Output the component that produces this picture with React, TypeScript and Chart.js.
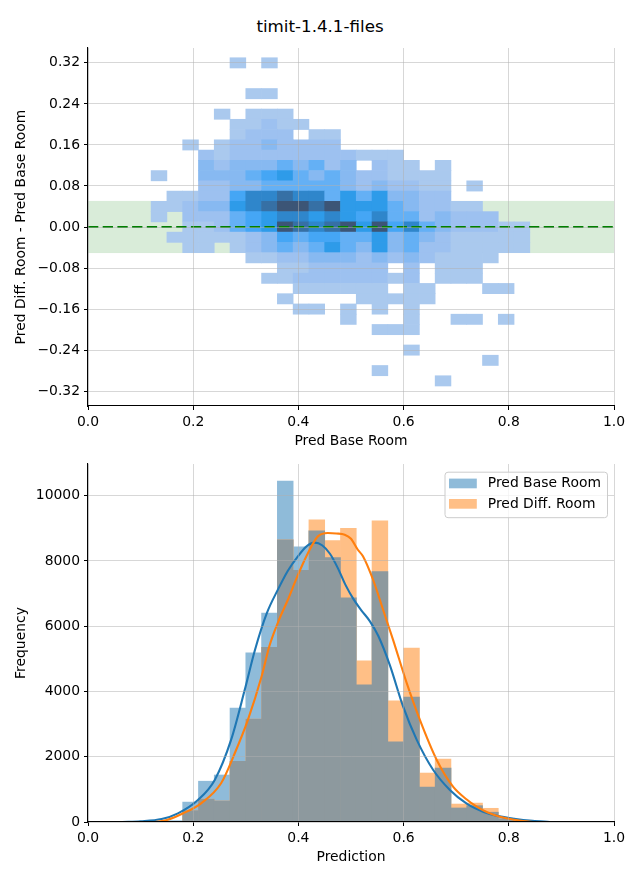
import React, { useEffect, useRef } from "react";
import { Chart, registerables } from "chart.js";

Chart.register(...registerables);

const FONT_FAMILY = "'DejaVu Sans', sans-serif";
Chart.defaults.font.family = FONT_FAMILY;
Chart.defaults.font.size = 13.9;
Chart.defaults.color = "#000";

const figureTitle = "timit-1.4.1-files";

// ---------- data ----------
// centres of the 0.03-wide prediction bins (shared by both panels)
const xBinCenters = [
  0.135, 0.165, 0.195, 0.225, 0.255, 0.285, 0.315, 0.345, 0.375, 0.405, 0.435, 0.465,
  0.495, 0.525, 0.555, 0.585, 0.615, 0.645, 0.675, 0.705, 0.735, 0.765, 0.795, 0.825,
];

// centres of the 0.02-high difference bins (top → bottom)
const diffBinCenters = [
  0.32, 0.3, 0.28, 0.26, 0.24, 0.22, 0.2, 0.18, 0.16, 0.14, 0.12, 0.1, 0.08, 0.06, 0.04, 0.02,
  0.0, -0.02, -0.04, -0.06, -0.08, -0.1, -0.12, -0.14, -0.16, -0.18, -0.2, -0.22, -0.24, -0.26,
  -0.28, -0.3,
];
const diffBinHalf = 0.01;

// density level of each 2-D cell (0 = empty, 1 = light … 9 = darkest); one string per row
const heatLevels = [
  "000001010000000000000000",
  "000000000000000000000000",
  "000000000000000000000000",
  "000000110000000000000000",
  "000000000000000000000000",
  "000010111000000000000000",
  "000001121100000000000000",
  "000001222011000000000000",
  "001012232222000000000000",
  "000212222222211100000000",
  "000323334342302110100000",
  "100333456434322111100000",
  "000223344444323221101000",
  "011225778774646332200000",
  "112336789989666432211000",
  "102224567767657442322200",
  "001124569878969574322211",
  "011111235455446343211111",
  "001101234346436342211111",
  "000000112233323232111100",
  "000000001122222020111000",
  "000000011222222120111000",
  "000000000111111011000110",
  "000000001000011111000000",
  "000000000110101010000000",
  "000000000000100010011010",
  "000000000000001110000000",
  "000000000000000000000000",
  "000000000000000010000000",
  "000000000000000000000100",
  "000000000000001000000000",
  "000000000000000000100000",
];
const heatShades = [
  "#aac9ee", "#9dc1f0", "#87b9f1", "#64b0f5", "#45a6f5", "#2e9be9", "#2f86cb", "#3670a5", "#3c5576",
];

const bandLimits = [-0.05, 0.05];
const zeroLineY = 0;

const topXTicks = [0, 0.2, 0.4, 0.6, 0.8, 1.0];
const topYTicks = [-0.32, -0.24, -0.16, -0.08, 0, 0.08, 0.16, 0.24, 0.32];

const seriesNames = ["Pred Base Room", "Pred Diff. Room"];
const baseCounts = [
  10, 40, 610, 1250, 1440, 3490, 5180, 6400, 10450, 8430, 8920, 8100,
  6870, 4200, 7670, 2460, 3830, 1070, 1650, 430, 500, 300, 120, 30,
];
const diffCounts = [
  0, 20, 350, 700, 645, 1860, 3150, 5350, 8650, 7710, 9260, 8620,
  9000, 4940, 9230, 3710, 5330, 1500, 1930, 550, 580, 420, 100, 20,
];

const baseKdeX = [
  0.065, 0.1, 0.14, 0.171, 0.209, 0.241, 0.272, 0.298, 0.317, 0.34, 0.361, 0.38, 0.399, 0.415,
  0.431, 0.445, 0.46, 0.475, 0.49, 0.505, 0.52, 0.536, 0.552, 0.574, 0.599, 0.625, 0.656, 0.688,
  0.72, 0.751, 0.78, 0.81, 0.845, 0.878,
];
const baseKdeY = [
  0, 20, 90, 266, 675, 1290, 2515, 4050, 5250, 6400, 7120, 7700, 8140, 8440,
  8560, 8480, 8220, 7780, 7250, 6820, 6480, 6150, 5700, 4800, 3540, 2515, 1600, 980,
  560, 316, 180, 100, 35, 0,
];
const diffKdeX = [
  0.127, 0.15, 0.181, 0.215, 0.253, 0.279, 0.304, 0.33, 0.345, 0.362, 0.38, 0.396, 0.412, 0.425,
  0.437, 0.456, 0.472, 0.488, 0.5, 0.513, 0.523, 0.542, 0.561, 0.58, 0.606, 0.631, 0.663, 0.694,
  0.72, 0.739, 0.76, 0.783, 0.81, 0.846,
];
const diffKdeY = [
  0, 60, 266, 573, 1186, 2106, 3129, 4458, 5400, 6150, 6810, 7450, 8037, 8450,
  8752, 8855, 8840, 8804, 8680, 8343, 8138, 7423, 6503, 5583, 4254, 3129, 1902, 1083,
  690, 470, 290, 163, 70, 0,
];

const bottomXTicks = [0, 0.2, 0.4, 0.6, 0.8, 1.0];
const bottomYTicks = [0, 2000, 4000, 6000, 8000, 10000];

// ---------- styles ----------
const BLUE = "#1f77b4";
const ORANGE = "#ff7f0e";
const BLUE_FILL = "#8fbbd9";
const ORANGE_FILL = "#ffbf86";
const OVERLAP_FILL = "#8d999e";

const TICK_FONT = { family: FONT_FAMILY, size: 13.9 };
const gridOpts = () => ({
  color: "rgba(176,176,176,0.5)",
  lineWidth: 1,
  tickColor: "#000",
  tickLength: 4,
  tickWidth: 1,
  offset: false,
  z: 1,
});
const borderOpts = () => ({ display: true, color: "#000", width: 1.1, z: 2 });

const fmtSigned = (v: number, d: number) => {
  const s = Math.abs(v).toFixed(d);
  return v < -1e-9 ? "\u2212" + s : s;
};

function xAxis(ticks: number[], title: string, height: number, titlePadBottom: number) {
  return {
    type: "linear",
    min: 0,
    max: 1,
    offset: false,
    grid: gridOpts(),
    border: borderOpts(),
    ticks: {
      font: TICK_FONT,
      color: "#000",
      padding: 4,
      maxRotation: 0,
      autoSkip: false,
      callback: (v: number) => Number(v).toFixed(1),
    },
    afterBuildTicks: (s: any) => {
      s.ticks = ticks.map((v) => ({ value: v }));
    },
    afterFit: (s: any) => {
      s.height = height;
    },
    title: {
      display: true,
      text: title,
      font: { family: FONT_FAMILY, size: 13.9 },
      color: "#000",
      padding: { top: 0, bottom: titlePadBottom },
    },
  };
}

function yAxis(min: number, max: number, ticks: number[], title: string, fmt: (v: number) => string) {
  return {
    type: "linear",
    min,
    max,
    grid: gridOpts(),
    border: borderOpts(),
    ticks: { font: TICK_FONT, color: "#000", padding: 4, autoSkip: false, callback: fmt },
    afterBuildTicks: (s: any) => {
      s.ticks = ticks.map((v) => ({ value: v }));
    },
    afterFit: (s: any) => {
      s.width = 88;
    },
    title: {
      display: true,
      text: title,
      font: { family: FONT_FAMILY, size: 13.9 },
      color: "#000",
      padding: { top: 13.3, bottom: 0 },
    },
  };
}

// ---------- plugins ----------
const bandPlugin = {
  id: "diffBand",
  beforeDatasetsDraw(chart: any) {
    const { ctx, chartArea, scales } = chart;
    const yTop = scales.y.getPixelForValue(bandLimits[1]);
    const yBot = scales.y.getPixelForValue(bandLimits[0]);
    ctx.save();
    ctx.fillStyle = "rgba(0,128,0,0.15)";
    ctx.fillRect(chartArea.left, yTop, chartArea.right - chartArea.left, yBot - yTop);
    ctx.strokeStyle = "rgba(0,128,0,0.08)";
    ctx.lineWidth = 1;
    ctx.beginPath();
    ctx.moveTo(chartArea.left, yTop);
    ctx.lineTo(chartArea.right, yTop);
    ctx.moveTo(chartArea.left, yBot);
    ctx.lineTo(chartArea.right, yBot);
    ctx.stroke();
    ctx.restore();
  },
};

function roundRectPath(ctx: CanvasRenderingContext2D, x: number, y: number, w: number, h: number, r: number) {
  ctx.beginPath();
  ctx.moveTo(x + r, y);
  ctx.lineTo(x + w - r, y);
  ctx.arcTo(x + w, y, x + w, y + r, r);
  ctx.lineTo(x + w, y + h - r);
  ctx.arcTo(x + w, y + h, x + w - r, y + h, r);
  ctx.lineTo(x + r, y + h);
  ctx.arcTo(x, y + h, x, y + h - r, r);
  ctx.lineTo(x, y + r);
  ctx.arcTo(x, y, x + r, y, r);
  ctx.closePath();
}

const legendColors = [BLUE_FILL, ORANGE_FILL];
const legendPlugin = {
  id: "histLegend",
  afterDraw(chart: any) {
    const { ctx, chartArea } = chart;
    const boxW = 162.5;
    const boxH = 45.5;
    const left = chartArea.right - 7 - boxW;
    const top = chartArea.top + 7.7;
    ctx.save();
    roundRectPath(ctx, left + 0.5, top + 0.5, boxW, boxH, 3);
    ctx.fillStyle = "rgba(255,255,255,0.8)";
    ctx.fill();
    ctx.strokeStyle = "#cccccc";
    ctx.lineWidth = 1;
    ctx.stroke();
    ctx.font = `13.9px ${FONT_FAMILY}`;
    ctx.textBaseline = "middle";
    ctx.textAlign = "left";
    seriesNames.forEach((name, i) => {
      const rowY = top + 11.8 + i * 20.4;
      ctx.fillStyle = legendColors[i];
      ctx.fillRect(left + 4.5, rowY - 4.9, 27.8, 9.7);
      ctx.fillStyle = "#000";
      ctx.fillText(name, left + 43.3, rowY);
    });
    ctx.restore();
  },
};

// ---------- chart configs ----------
function topConfig(): any {
  const cells: any[] = [];
  const colors: string[] = [];
  heatLevels.forEach((row, i) => {
    for (let j = 0; j < row.length; j++) {
      const lvl = Number(row[j]);
      if (lvl > 0) {
        const yc = diffBinCenters[i];
        cells.push({ x: xBinCenters[j], y: [yc - diffBinHalf, yc + diffBinHalf] });
        colors.push(heatShades[lvl - 1]);
      }
    }
  });
  return {
    type: "bar",
    data: {
      datasets: [
        {
          type: "bar",
          data: cells,
          backgroundColor: colors,
          borderWidth: 0,
          grouped: false,
          barPercentage: 1,
          categoryPercentage: 1,
          order: 2,
        },
        {
          type: "line",
          data: [
            { x: 0, y: zeroLineY },
            { x: 1, y: zeroLineY },
          ],
          borderColor: "#008000",
          borderWidth: 2.1,
          borderDash: [10.3, 4.4],
          pointRadius: 0,
          fill: false,
          order: 0,
        },
      ],
    },
    options: {
      responsive: false,
      animation: false,
      events: [],
      layout: { padding: { left: 0, right: 26, top: 48, bottom: 0 } },
      plugins: { legend: { display: false }, tooltip: { enabled: false }, title: { display: false } },
      scales: {
        x: xAxis(topXTicks, "Pred Base Room", 49, 5.66),
        y: yAxis(-0.349, 0.349, topYTicks, "Pred Diff. Room - Pred Base Room", (v: number) => fmtSigned(Number(v), 2)),
      },
    },
    plugins: [bandPlugin],
  };
}

function bottomConfig(): any {
  const barCommon = { borderWidth: 0, grouped: false, barPercentage: 1, categoryPercentage: 1 };
  const toPts = (vals: number[]) => xBinCenters.map((x, i) => ({ x, y: vals[i] }));
  const overlap = baseCounts.map((v, i) => Math.min(v, diffCounts[i]));
  return {
    type: "bar",
    data: {
      datasets: [
        {
          type: "line",
          label: seriesNames[1],
          data: diffKdeX.map((x, i) => ({ x, y: diffKdeY[i] })),
          borderColor: ORANGE,
          borderWidth: 2.1,
          pointRadius: 0,
          cubicInterpolationMode: "monotone",
          fill: false,
          order: 0,
        },
        {
          type: "line",
          label: seriesNames[0],
          data: baseKdeX.map((x, i) => ({ x, y: baseKdeY[i] })),
          borderColor: BLUE,
          borderWidth: 2.1,
          pointRadius: 0,
          cubicInterpolationMode: "monotone",
          fill: false,
          order: 0.5,
        },
        { type: "bar", data: toPts(overlap), backgroundColor: OVERLAP_FILL, order: 1, ...barCommon },
        { type: "bar", label: seriesNames[1], data: toPts(diffCounts), backgroundColor: ORANGE_FILL, order: 2, ...barCommon },
        { type: "bar", label: seriesNames[0], data: toPts(baseCounts), backgroundColor: BLUE_FILL, order: 3, ...barCommon },
      ],
    },
    options: {
      responsive: false,
      animation: false,
      events: [],
      layout: { padding: { left: 0, right: 26, top: 34, bottom: 0 } },
      plugins: { legend: { display: false }, tooltip: { enabled: false }, title: { display: false } },
      scales: {
        x: xAxis(bottomXTicks, "Prediction", 58, 14.66),
        y: yAxis(0, 10970, bottomYTicks, "Frequency", (v: number) => String(Math.round(Number(v)))),
      },
    },
    plugins: [legendPlugin],
  };
}

function ChartCanvas({ makeConfig, top, width, height }: { makeConfig: () => any; top: number; width: number; height: number }) {
  const ref = useRef<HTMLCanvasElement>(null);
  useEffect(() => {
    if (!ref.current) return;
    const chart = new Chart(ref.current, makeConfig());
    return () => chart.destroy();
  }, []);
  return (
    <canvas
      ref={ref}
      width={width}
      height={height}
      style={{ position: "absolute", left: 0, top, width, height }}
    />
  );
}

export default function App() {
  return (
    <div
      style={{
        position: "absolute",
        left: 0,
        top: 0,
        width: 640,
        height: 880,
        background: "#fff",
        overflow: "hidden",
      }}
    >
      <div
        style={{
          position: "absolute",
          left: 0,
          top: 16,
          width: 640,
          textAlign: "center",
          fontFamily: FONT_FAMILY,
          fontSize: 16.7,
          lineHeight: "20px",
          color: "#000",
        }}
      >
        {figureTitle}
      </div>
      <ChartCanvas makeConfig={topConfig} top={0} width={640} height={455} />
      <ChartCanvas makeConfig={bottomConfig} top={430} width={640} height={450} />
    </div>
  );
}
